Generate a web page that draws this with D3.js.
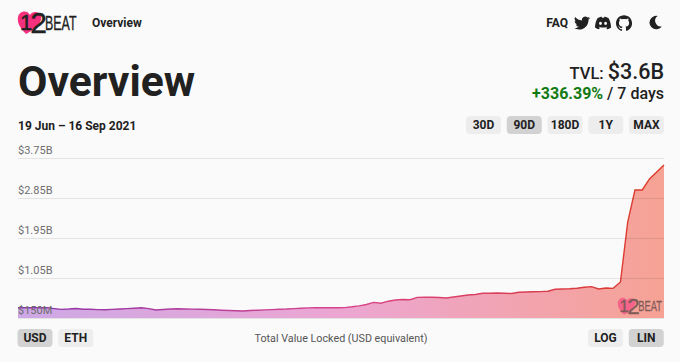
<!DOCTYPE html>
<html>
<head>
<meta charset="utf-8">
<script src="https://cdn.jsdelivr.net/npm/d3@7"></script>
<style>
    html, body { margin: 0; padding: 0; background: #fafafa; overflow: hidden; }
    text { font-family: Roboto, sans-serif; }
</style>
</head>
<body>
<div id="chart"></div>
<script>
    // TVL in $M, one value a day from 19 Jun to 16 Sep 2021
    const tvl = [
        382, 384, 380, 384, 382, 362, 344, 352, 364, 346,
        348, 339, 337, 344, 352, 362, 370, 380, 362, 330,
        341, 352, 357, 352, 350, 348, 341, 334, 325, 319,
        312, 307, 319, 325, 332, 339, 346, 352, 362, 370,
        377, 380, 382, 382, 382, 384, 402, 424, 454, 501,
        481, 528, 555, 566, 562, 613, 616, 616, 611, 600,
        622, 645, 667, 679, 708, 706, 712, 706, 701, 730,
        735, 739, 744, 751, 796, 802, 807, 818, 843, 856,
        802, 825, 816, 960, 2310, 3030, 3030, 3278, 3435, 3592
    ];
    const yTicks = [150, 1050, 1950, 2850, 3750];
    const yTickLabels = ["$150M", "$1.05B", "$1.95B", "$2.85B", "$3.75B"];
    const rangeButtons = ["30D", "90D", "180D", "1Y", "MAX"];
    const currencyButtons = ["USD", "ETH"];
    const scaleButtons = ["LOG", "LIN"];

    const width = 680, height = 362;
    const plot = { left: 18, right: 664, top: 158, bottom: 318 };
    const dark = "#212121";

    const svg = d3.select("#chart").append("svg")
        .attr("width", width)
        .attr("height", height)
        .style("display", "block");

    const xScale = d3.scaleLinear().domain([0, tvl.length - 1]).range([plot.left, plot.right]);
    const yScale = d3.scaleLinear().domain([150, 3750]).range([plot.bottom, plot.top]);

    const defs = svg.append("defs");

    function addGradient(id, stops) {
        const g = defs.append("linearGradient")
            .attr("id", id)
            .attr("gradientUnits", "userSpaceOnUse")
            .attr("x1", plot.left).attr("x2", plot.right)
            .attr("y1", 0).attr("y2", 0);
        stops.forEach((c, i) => {
            g.append("stop").attr("offset", i / (stops.length - 1)).attr("stop-color", c);
        });
    }
    addGradient("fillGrad", ["#cda8e6", "#eca6d2", "#f6a294"]);
    addGradient("lineGrad", ["#8a35ad", "#d8448c", "#dd3a25"]);

    const area = d3.area()
        .x((d, i) => xScale(i))
        .y0(yScale(150))
        .y1(d => yScale(d));
    const line = d3.line()
        .x((d, i) => xScale(i))
        .y(d => yScale(d));

    svg.append("path")
        .datum(tvl)
        .attr("fill", "url(#fillGrad)")
        .attr("d", area);
    svg.append("path")
        .datum(tvl)
        .attr("fill", "none")
        .attr("stroke", "url(#lineGrad)")
        .attr("stroke-width", 1.4)
        .attr("d", line);

    // gridlines and labels go over the area, the lines show through it
    const axis = svg.append("g")
        .attr("transform", `translate(${plot.left},0)`)
        .call(d3.axisRight(yScale)
            .tickValues(yTicks)
            .tickSize(plot.right - plot.left)
            .tickFormat((d, i) => yTickLabels[i]));
    axis.select(".domain").remove();
    axis.selectAll(".tick line").attr("stroke", "rgba(0,0,0,0.09)");
    axis.selectAll(".tick text")
        .attr("x", 0)
        .attr("dy", -4.5)
        .attr("text-anchor", "start")
        .attr("fill", "#6e6e6e")
        .attr("font-size", 11)
        .style("font-family", "Roboto, sans-serif");

    function drawLogo(x, y, k, opacity) {
        const g = svg.append("g")
            .attr("transform", `translate(${x},${y}) scale(${k})`)
            .attr("opacity", opacity);
        g.append("path")
            .attr("d", "M8 25 C2 19 -1 14 0 8 C1 2 9 0 12 6 C14 2 21 2 23 7 C25 12 18 20 8 25 Z")
            .attr("fill", "#f5317f");
        const digits = g.append("text")
            .attr("x", 2).attr("y", 21)
            .attr("fill", dark)
            .attr("stroke", dark)
            .attr("stroke-width", 0.5)
            .style("font-family", "'Liberation Sans Narrow', sans-serif");
        digits.append("tspan").attr("font-size", 22).text("1");
        digits.append("tspan").attr("font-size", 30).attr("dx", -2).attr("dy", 3).text("2");
        g.append("text")
            .attr("x", 27).attr("y", 20.5)
            .attr("fill", dark)
            .attr("stroke", dark)
            .attr("stroke-width", 0.35)
            .attr("font-size", 20)
            .attr("textLength", 31.5)
            .attr("lengthAdjust", "spacingAndGlyphs")
            .style("font-family", "'Liberation Sans Narrow', sans-serif")
            .text("BEAT");
    }
    drawLogo(18, 9, 1, 1);
    drawLogo(618, 296, 0.75, 0.55);

    // header
    svg.append("text").attr("x", 92).attr("y", 27)
        .attr("font-size", 12).attr("font-weight", 700).attr("fill", dark)
        .text("Overview");
    svg.append("text").attr("x", 18).attr("y", 96)
        .attr("font-size", 42.7).attr("font-weight", 700).attr("fill", dark)
        .text("Overview");
    svg.append("text").attr("x", 18).attr("y", 130)
        .attr("font-size", 12).attr("font-weight", 700).attr("fill", dark)
        .text("19 Jun – 16 Sep 2021");
    svg.append("text").attr("x", 568).attr("y", 27).attr("text-anchor", "end")
        .attr("font-size", 12).attr("font-weight", 700).attr("fill", dark)
        .text("FAQ");

    const tvlText = svg.append("text").attr("x", 664).attr("y", 79)
        .attr("text-anchor", "end").attr("fill", dark);
    tvlText.append("tspan").attr("font-size", 16.5).attr("font-weight", 500).text("TVL: ");
    tvlText.append("tspan").attr("font-size", 21.5).attr("font-weight", 500).text("$3.6B");

    const changeText = svg.append("text").attr("x", 664).attr("y", 99)
        .attr("text-anchor", "end").attr("font-size", 16).attr("font-weight", 500).attr("fill", dark);
    changeText.append("tspan").attr("fill", "#137a13").attr("font-weight", 700).text("+336.39%");
    changeText.append("tspan").text(" / 7 days");

    // icons
    const icons = [
        { x: 574, d: "M23.953 4.57a10 10 0 01-2.825.775 4.958 4.958 0 002.163-2.723c-.951.555-2.005.959-3.127 1.184a4.92 4.92 0 00-8.384 4.482C7.69 8.095 4.067 6.13 1.64 3.162a4.822 4.822 0 00-.666 2.475c0 1.71.87 3.213 2.188 4.096a4.904 4.904 0 01-2.228-.616v.06a4.923 4.923 0 003.946 4.827 4.996 4.996 0 01-2.212.085 4.936 4.936 0 004.604 3.417 9.867 9.867 0 01-6.102 2.105c-.39 0-.779-.023-1.17-.067a13.995 13.995 0 007.557 2.209c9.053 0 13.998-7.496 13.998-13.985 0-.21 0-.42-.015-.63A9.935 9.935 0 0024 4.59z" },
        { x: 595, d: "M4 4.5 C7 3 9 2.6 10 2.6 L10.6 4 C11.5 3.9 12.5 3.9 13.4 4 L14 2.6 C15 2.6 17 3 20 4.5 C22.5 8.5 23.8 13 24 18.5 C22 20 20 21 18 21.4 L16.7 19 L18.5 18 L18 17.5 C14 19.2 10 19.2 6 17.5 L5.5 18 L7.3 19 L6 21.4 C4 21 2 20 0 18.5 C.2 13 1.5 8.5 4 4.5 Z M8.2 10 A2.2 2.4 0 1 0 8.2 14.8 A2.2 2.4 0 1 0 8.2 10 Z M15.8 10 A2.2 2.4 0 1 0 15.8 14.8 A2.2 2.4 0 1 0 15.8 10 Z" },
        { x: 616, d: "M12 .297c-6.63 0-12 5.373-12 12 0 5.303 3.438 9.8 8.205 11.385.6.113.82-.258.82-.577 0-.285-.01-1.04-.015-2.04-3.338.724-4.042-1.61-4.042-1.61C4.422 18.07 3.633 17.7 3.633 17.7c-1.087-.744.084-.729.084-.729 1.205.084 1.838 1.236 1.838 1.236 1.07 1.835 2.809 1.305 3.495.998.108-.776.417-1.305.76-1.605-2.665-.3-5.466-1.332-5.466-5.93 0-1.31.465-2.38 1.235-3.22-.135-.303-.54-1.523.105-3.176 0 0 1.005-.322 3.3 1.23.96-.267 1.98-.399 3-.405 1.02.006 2.04.138 3 .405 2.28-1.552 3.285-1.23 3.285-1.23.645 1.653.24 2.873.12 3.176.765.84 1.23 1.91 1.23 3.22 0 4.61-2.805 5.625-5.475 5.92.42.36.81 1.096.81 2.22 0 1.606-.015 2.896-.015 3.286 0 .315.21.69.825.57C20.565 22.092 24 17.592 24 12.297c0-6.627-5.373-12-12-12" },
        { x: 649, d: "M13 1.5 A10 10 0 1 0 19 17 A8.5 8.5 0 0 1 13 1.5 Z" }
    ];
    svg.selectAll("path.icon")
        .data(icons)
        .join("path")
        .attr("class", "icon")
        .attr("transform", d => `translate(${d.x},15) scale(0.67)`)
        .attr("fill", dark)
        .attr("d", d => d.d);

    // button rows, all 35 wide
    function drawButtons(labels, startX, y, selected) {
        const g = svg.append("g").selectAll("g")
            .data(labels)
            .join("g")
            .attr("transform", (d, i) => `translate(${startX + i * 40.75},${y})`);
        g.append("rect")
            .attr("width", 35).attr("height", 18).attr("rx", 4)
            .attr("fill", d => d === selected ? "#d2d2d2" : "#ededed");
        g.append("text")
            .attr("x", 17.5).attr("y", 13.3)
            .attr("text-anchor", "middle")
            .attr("font-size", 12).attr("font-weight", 700)
            .attr("fill", dark)
            .text(d => d);
    }
    drawButtons(rangeButtons, 466, 116, "90D");
    drawButtons(currencyButtons, 17.5, 329, "USD");
    drawButtons(scaleButtons, 588, 329, "LIN");

    svg.append("text").attr("x", 341).attr("y", 342).attr("text-anchor", "middle")
        .attr("font-size", 10.75).attr("fill", "#555")
        .text("Total Value Locked (USD equivalent)");
</script>
</body>
</html>
